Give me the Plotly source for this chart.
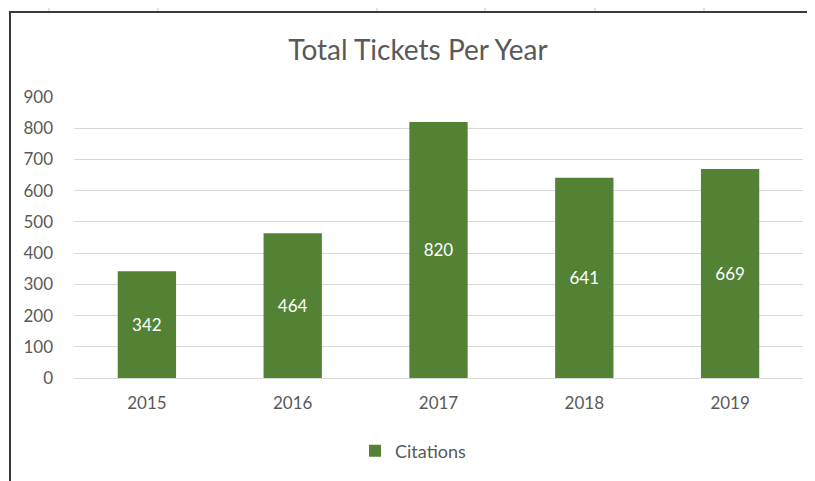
import plotly.graph_objects as go

years = ["2015", "2016", "2017", "2018", "2019"]
citations = [342, 464, 820, 641, 669]
y_ticks = [0, 100, 200, 300, 400, 500, 600, 700, 800, 900]

# page body has an 8px margin; work in reference pixel coordinates and shift
OFF = 8
W, H = 815 - OFF, 481 - OFF
plot_l, plot_r, plot_t, plot_b = 74, 803, 97, 378
L = plot_l - OFF
R = W - (plot_r - OFF)
T = plot_t - OFF
B = H - (plot_b - OFF)
pw, ph = W - L - R, H - T - B

def px_x(x):
    return (x - OFF - L) / pw

def px_y(y):
    return (H - B - (y - OFF)) / ph

fig = go.Figure()
fig.add_trace(go.Bar(
    x=years, y=citations, name="Citations",
    marker=dict(color="#548235", line=dict(width=0)),
    text=[str(v) for v in citations],
    textposition="inside", insidetextanchor="middle",
    textfont=dict(color="white", size=17, family="Lato"),
    cliponaxis=False,
))

shapes = [
    dict(type="line", xref="paper", yref="paper",
         x0=px_x(9), x1=px_x(815), y0=px_y(12), y1=px_y(12),
         line=dict(color="#3a3a3a", width=2)),
    dict(type="line", xref="paper", yref="paper",
         x0=px_x(10), x1=px_x(10), y0=px_y(12), y1=px_y(481),
         line=dict(color="#3a3a3a", width=2)),
]
for cx in [49, 158, 377, 485, 595, 704, 813]:
    shapes.append(dict(type="line", xref="paper", yref="paper",
                       x0=px_x(cx), x1=px_x(cx), y0=px_y(8), y1=px_y(11),
                       line=dict(color="#c8c8c8", width=1)))

fig.update_layout(
    width=W, height=H,
    margin=dict(l=L, r=R, t=T, b=B, autoexpand=False),
    paper_bgcolor="white", plot_bgcolor="white",
    font=dict(family="Lato", color="#595959", size=17),
    title=dict(text="Total Tickets Per Year", x=px_x(418), xref="paper",
               xanchor="center",
               y=1 - (50 - OFF) / H, yanchor="middle",
               font=dict(size=28, color="#595959", family="Lato")),
    bargap=0.6,
    showlegend=True,
    legend=dict(orientation="h", x=px_x(355), xanchor="left",
                y=px_y(451), yanchor="middle",
                font=dict(size=18, color="#595959")),
    shapes=shapes,
    xaxis=dict(showgrid=False, showline=True, linecolor="#d9d9d9", linewidth=1,
               ticks="", tickfont=dict(size=17, color="#595959"),
               ticklabelstandoff=10),
    yaxis=dict(range=[0, 900], tickvals=y_ticks, showgrid=True,
               gridcolor="#d9d9d9", gridwidth=1, zeroline=False,
               showline=False, ticks="",
               tickfont=dict(size=17, color="#595959"),
               ticklabelstandoff=20),
)

fig.write_html("out.html")
